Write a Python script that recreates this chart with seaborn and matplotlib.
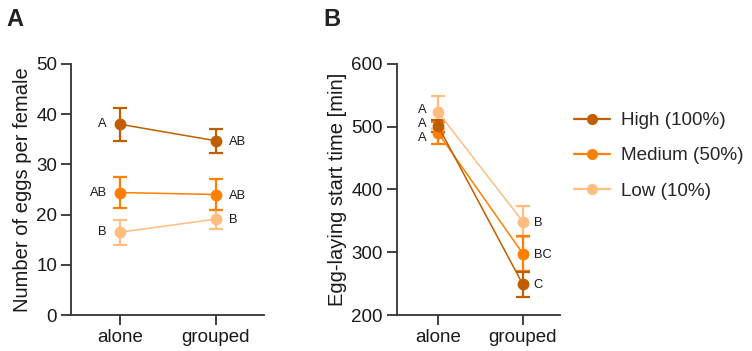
import numpy as np
import pandas as pd
import matplotlib
matplotlib.use("Agg")
import matplotlib.pyplot as plt
from matplotlib.lines import Line2D
import seaborn as sns

# ---------------- data ----------------
conditions = ["alone", "grouped"]
groups = ["High (100%)", "Medium (50%)", "Low (10%)"]
colors = ["#C05E00", "#FF7F00", "#FFBD80"]

eggs_mean = {"High (100%)": [38.0, 34.7], "Medium (50%)": [24.4, 24.0], "Low (10%)": [16.5, 19.1]}
eggs_sem = {"High (100%)": [3.3, 2.4], "Medium (50%)": [3.0, 3.1], "Low (10%)": [2.5, 1.9]}
eggs_letters = {"High (100%)": ["A", "AB"], "Medium (50%)": ["AB", "AB"], "Low (10%)": ["B", "B"]}

start_mean = {"High (100%)": [501, 249], "Medium (50%)": [490, 298], "Low (10%)": [523, 349]}
start_sem = {"High (100%)": [10, 20], "Medium (50%)": [17, 28], "Low (10%)": [26, 25]}
start_letters = {"High (100%)": ["A", "C"], "Medium (50%)": ["A", "BC"], "Low (10%)": ["A", "B"]}

eggs_yticks = [0, 10, 20, 30, 40, 50]
start_yticks = [200, 300, 400, 500, 600]

# ---------------- style ----------------
sns.set_theme(style="ticks")
plt.rcParams["font.family"] = ["Liberation Sans", "DejaVu Sans"]
axis_col = "#333333"
text_col = "#1a1a1a"

fig = plt.figure(figsize=(7.52, 3.51), dpi=100)
axA = fig.add_axes([71 / 752, 36 / 351, 193 / 752, 251 / 351])
axB = fig.add_axes([396.7 / 752, 36 / 351, 163.3 / 752, 251 / 351])


def build_df(means):
    rows = []
    for g in groups:
        for i, c in enumerate(conditions):
            rows.append({"group": g, "x": i, "y": means[g][i]})
    return pd.DataFrame(rows)


def draw(ax, means, sems):
    df = build_df(means)
    order = [2, 1, 0]  # draw Low first, High on top
    for k in order:
        g = groups[k]
        sub = df[df.group == g]
        ax.errorbar(sub["x"], sub["y"], yerr=sems[g], fmt="none", ecolor=colors[k],
                    elinewidth=1.6, capsize=5, capthick=1.6, zorder=2 + (2 - k) * 0.1)
        sns.lineplot(data=sub, x="x", y="y", color=colors[k], marker="o", markersize=8.5,
                     markeredgewidth=0, linewidth=1.1, ax=ax, legend=False,
                     zorder=3 + (2 - k) * 0.1)


draw(axA, eggs_mean, eggs_sem)
draw(axB, start_mean, start_sem)

# letters
ann_kw = dict(textcoords="offset pixels", fontsize=9.3, color=text_col, va="center")
for k, g in enumerate(groups):
    axA.annotate(eggs_letters[g][0], (0, eggs_mean[g][0]), xytext=(-13, 0), ha="right", **ann_kw)
    axA.annotate(eggs_letters[g][1], (1, eggs_mean[g][1]), xytext=(13, -1), ha="left", **ann_kw)

b_left_dy = {"High (100%)": 2.5, "Medium (50%)": -4.5, "Low (10%)": 2.5}
for k, g in enumerate(groups):
    axB.annotate(start_letters[g][0], (0, start_mean[g][0]), xytext=(-12, b_left_dy[g]), ha="right", **ann_kw)
    axB.annotate(start_letters[g][1], (1, start_mean[g][1]), xytext=(11, -1), ha="left", **ann_kw)

for ax, yt, ylab, xl in [
    (axA, eggs_yticks, "Number of eggs per female", (-0.51, 1.5)),
    (axB, start_yticks, "Egg-laying start time [min]", (-0.49, 1.44)),
]:
    ax.set_ylim(yt[0], yt[-1])
    ax.set_yticks(yt)
    ax.set_xlim(*xl)
    ax.set_xticks([0, 1])
    ax.set_xticklabels(conditions)
    ax.set_xlabel("")
    ax.set_ylabel(ylab, fontsize=14.5, color=text_col, labelpad=3)
    ax.tick_params(axis="both", labelsize=13.5, colors=axis_col, labelcolor=text_col,
                   width=1.3, length=7, direction="out", pad=3)
    for s in ["left", "bottom"]:
        ax.spines[s].set_linewidth(1.3)
        ax.spines[s].set_color(axis_col)
    for s in ["top", "right"]:
        ax.spines[s].set_visible(False)

# panel letters
fig.text(6 / 752, 1 - 8 / 351, "A", fontsize=17, fontweight="bold", color="#222222", va="top", ha="left")
fig.text(323 / 752, 1 - 8 / 351, "B", fontsize=17, fontweight="bold", color="#222222", va="top", ha="left")

# legend
handles = [Line2D([0], [0], color=colors[k], marker="o", markersize=8, linewidth=1.6,
                  markeredgewidth=0) for k in range(3)]
fig.legend(handles, groups, loc="upper left", bbox_to_anchor=(574 / 752, 1 - 112 / 351),
           frameon=False, fontsize=13.6, handlelength=1.9, handletextpad=0.6,
           labelspacing=0.95, borderaxespad=0, borderpad=0)

fig.savefig("out.png", dpi=100)
